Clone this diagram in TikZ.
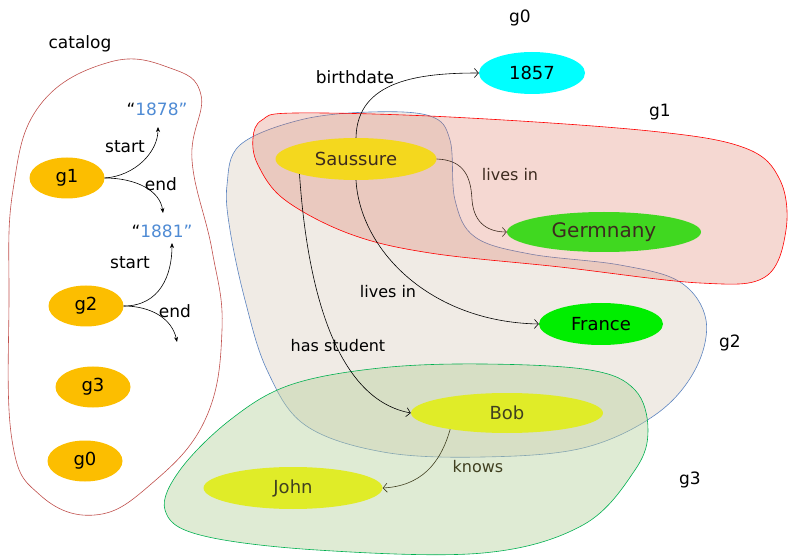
\documentclass[tikz,border=0pt]{standalone}
\usepackage{fontspec}
\setmainfont{DejaVu Sans}
\usetikzlibrary{shapes.geometric,arrows.meta}
\definecolor{catred}{RGB}{192,80,77}
\definecolor{gorange}{RGB}{252,190,0}
\definecolor{qblue}{RGB}{79,139,212}
\definecolor{cyanfill}{RGB}{0,255,255}
\definecolor{sauy}{RGB}{244,216,30}
\definecolor{gergreen}{RGB}{64,216,32}
\definecolor{frgreen}{RGB}{0,238,0}
\definecolor{bobyel}{RGB}{224,236,40}
\definecolor{browntxt}{RGB}{61,43,31}
\definecolor{olivetxt}{RGB}{64,64,32}
\definecolor{gonefill}{RGB}{218,111,89}
\definecolor{gtwofill}{RGB}{240,235,229}
\definecolor{gtwoline}{RGB}{91,131,192}
\definecolor{gthreefill}{RGB}{185,210,160}
\definecolor{gthreeline}{RGB}{0,176,80}
\tikzset{
  lbl/.style={font=\fontsize{17}{20}\selectfont, inner sep=0pt},
  elbl/.style={font=\fontsize{16}{19}\selectfont, inner sep=0pt},
  ell/.style={ellipse, inner sep=0pt, font=\fontsize{18}{21}\selectfont},
  gnode/.style={ell, fill=gorange, minimum width=75pt, minimum height=41pt},
  catarrow/.style={-{Stealth[length=5pt,width=4pt]}, line width=0.6pt},
  relarrow/.style={-{Straight Barb[length=4pt,width=9pt]}, line width=0.6pt},
}
\begin{document}
\begin{tikzpicture}[x=1pt,y=-1pt]
\useasboundingbox (0,0) rectangle (788,556);
% blobs
\draw[catred, line width=0.6pt] plot[smooth cycle, tension=0.7] coordinates
 {(95,515) (40,495) (12,440) (9,300) (13,190) (40,105) (110,62) (170,68) (201,95) (192,160) (212,250) (222,330) (205,420) (150,485)};
\draw[gtwoline, fill=gtwofill, line width=0.6pt] plot[smooth cycle, tension=0.6] coordinates
 {(227,185) (240,145) (300,120) (370,112) (430,116) (450,140) (455,200) (475,237) (530,254) (620,265) (680,282) (706,320) (695,370) (655,415) (583,448) (483,457) (383,452) (305,425) (267,370) (245,300) (230,230)};
\draw[red, fill=gonefill, fill opacity=0.27, line width=0.6pt] plot[smooth cycle, tension=0.6] coordinates
 {(262,120) (295,113) (450,117) (650,131) (745,148) (780,180) (786,230) (765,277) (700,283) (560,267) (430,253) (350,234) (285,200) (258,165) (253,138)};
\draw[gthreeline, fill=gthreefill, fill opacity=0.45, line width=0.6pt] plot[smooth cycle, tension=0.6] coordinates
 {(483,364) (590,370) (635,390) (648,430) (635,470) (583,525) (483,553) (317,550) (200,535) (165,510) (180,470) (230,420) (290,385) (380,368)};
% labels of groups
\node[lbl] (catlbl) at (80,44) {catalog};
\node[lbl] (g0lbl) at (520,18) {g0};
\node[lbl] (g1lbl) at (660,112) {g1};
\node[lbl] (g2lbl) at (730,343) {g2};
\node[lbl] (g3lbl) at (690,480) {g3};
% catalog nodes
\node[gnode] (g1) at (67,178) {g1};
\node[gnode] (g2) at (86,306) {g2};
\node[gnode] (g3) at (93,387) {g3};
\node[gnode] (g0) at (85,461) {g0};
\node[lbl] (d1878) at (157,109) {“\textcolor{qblue}{1878”}};
\node[lbl] (d1881) at (162,231) {“\textcolor{qblue}{1881”}};
\coordinate (s1) at (158,127);
\coordinate (e1) at (163,213);
\coordinate (s2) at (172,243);
\coordinate (e2) at (177,342);
\draw[catarrow] (g1.east) .. controls (135,176) and (158,152) .. (s1);
\draw[catarrow] (g1.east) .. controls (135,178) and (160,190) .. (e1);
\draw[catarrow] (g2.east) .. controls (160,306) and (172,275) .. (s2);
\draw[catarrow] (g2.east) .. controls (150,306) and (172,318) .. (e2);
\node[lbl] (ls1) at (125,147) {start};
\node[lbl] (le1) at (161,184) {end};
\node[lbl] (ls2) at (130,263) {start};
\node[lbl] (le2) at (175,311) {end};
% main nodes
\node[ell, fill=cyanfill, minimum width=106pt, minimum height=42pt] (n1857) at (532,73) {1857};
\node[ell, fill=sauy, text=browntxt, minimum width=161pt, minimum height=42pt] (sau) at (356,159) {Saussure};
\node[ell, fill=gergreen, text=browntxt, minimum width=194pt, minimum height=40pt, font=\fontsize{20}{23}\selectfont] (ger) at (604,232) {Germnany};
\node[ell, fill=frgreen, minimum width=124pt, minimum height=42pt] (fra) at (601,324) {France};
\node[ell, fill=bobyel, text=olivetxt, minimum width=192pt, minimum height=40pt] (bob) at (507,413) {Bob};
\node[ell, fill=bobyel, text=olivetxt, minimum width=179pt, minimum height=42pt] (john) at (293,488) {John};
% relations
\draw[relarrow] (sau.north) .. controls (357,80) and (420,73) .. (n1857.west);
\draw[relarrow, browntxt] (sau.east) .. controls (465,160) and (471,178) .. (472,200) .. controls (474,225) and (490,232) .. (ger.west);
\draw[relarrow] (sau.south) .. controls (360,250) and (430,322) .. (fra.west);
\draw[relarrow] (sau.195) .. controls (308,300) and (340,400) .. (bob.west);
\draw[relarrow, olivetxt] (bob.196) .. controls (440,465) and (420,486) .. (john.east);
\node[lbl] (lbirth) at (355,77) {birthdate};
\node[elbl, text=browntxt] (llive1) at (510,175) {lives in};
\node[elbl] (llive2) at (388,292) {lives in};
\node[elbl] (lstud) at (338,346) {has student};
\node[elbl, text=olivetxt] (lknows) at (478,467) {knows};
\end{tikzpicture}
\end{document}
